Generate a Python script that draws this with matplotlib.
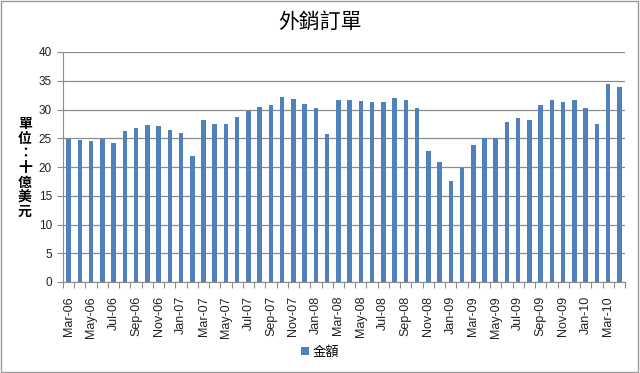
import matplotlib
matplotlib.use("Agg")
import matplotlib.pyplot as plt
from matplotlib.patches import Rectangle
import numpy as np

months = ["Mar-06","Apr-06","May-06","Jun-06","Jul-06","Aug-06","Sep-06","Oct-06","Nov-06","Dec-06",
          "Jan-07","Feb-07","Mar-07","Apr-07","May-07","Jun-07","Jul-07","Aug-07","Sep-07","Oct-07",
          "Nov-07","Dec-07","Jan-08","Feb-08","Mar-08","Apr-08","May-08","Jun-08","Jul-08","Aug-08",
          "Sep-08","Oct-08","Nov-08","Dec-08","Jan-09","Feb-09","Mar-09","Apr-09","May-09","Jun-09",
          "Jul-09","Aug-09","Sep-09","Oct-09","Nov-09","Dec-09","Jan-10","Feb-10","Mar-10","Apr-10"]
values = [24.9, 24.7, 24.5, 24.9, 24.1, 26.2, 26.7, 27.3, 27.1, 26.4,
          25.9, 21.9, 28.1, 27.4, 27.4, 28.7, 29.7, 30.5, 30.8, 32.2,
          31.9, 31.0, 30.2, 25.8, 31.6, 31.7, 31.4, 31.3, 31.3, 32.0,
          31.7, 30.3, 22.8, 20.8, 17.6, 19.9, 23.9, 25.1, 25.1, 27.9,
          28.5, 28.2, 30.8, 31.7, 31.3, 31.7, 30.3, 27.4, 34.4, 34.0]
title = "外銷訂單"
ylabel = "單位：十億美元"
series_name = "金額"
yticks = [0, 5, 10, 15, 20, 25, 30, 35, 40]

cjk = ["Noto Sans CJK TC", "DejaVu Sans"]
bar_color = "#4F81BD"
grid_color = "#8C8C8C"

fig = plt.figure(figsize=(6.4, 3.73), dpi=100)
ax = fig.add_axes([63/640, 1-282/373, (625-63)/640, (282-52)/373])

x = np.arange(len(values))
ax.bar(x, values, width=0.4, color=bar_color, zorder=3, label=series_name)

ax.set_xlim(-0.5, len(values) - 0.5)
ax.set_ylim(0, 40)
ax.set_yticks(yticks)
ax.set_yticklabels([str(t) for t in yticks], fontsize=8.5, family="Liberation Sans", color="#222222")
ax.yaxis.grid(True, color=grid_color, linewidth=0.9, zorder=0)
ax.tick_params(axis="y", length=4, width=0.8, color=grid_color, pad=4)

ax.set_xticks(x[::2])
ax.set_xticklabels(months[::2], rotation=90, fontsize=9, family="Liberation Sans", color="#222222")
ax.tick_params(axis="x", length=0, pad=10)
ax.set_xticks(np.arange(-0.5, len(values), 1), minor=True)
ax.tick_params(axis="x", which="minor", length=4, width=0.8, color=grid_color)

for s in ["top", "right"]:
    ax.spines[s].set_visible(False)
ax.spines["left"].set_color(grid_color)
ax.spines["bottom"].set_color(grid_color)

fig.text(0.5, 1-22/373, title, ha="center", va="center", fontsize=15, family=cjk)
fig.text(25/640, 1-168/373, "\n".join(ylabel), ha="center", va="center", fontsize=10,
         family=cjk, fontweight="bold", linespacing=1.05)

leg = fig.legend(loc="center", bbox_to_anchor=(0.5, 1-352/373), frameon=False,
                 prop={"family": cjk, "size": 9.5}, handlelength=0.6, handleheight=0.6,
                 handletextpad=0.3)

fig.patches.append(Rectangle((0.002, 0.003), 0.995, 0.993, transform=fig.transFigure,
                             fill=False, edgecolor="#999999", linewidth=1))

fig.savefig("out.png", dpi=100, facecolor="white")
